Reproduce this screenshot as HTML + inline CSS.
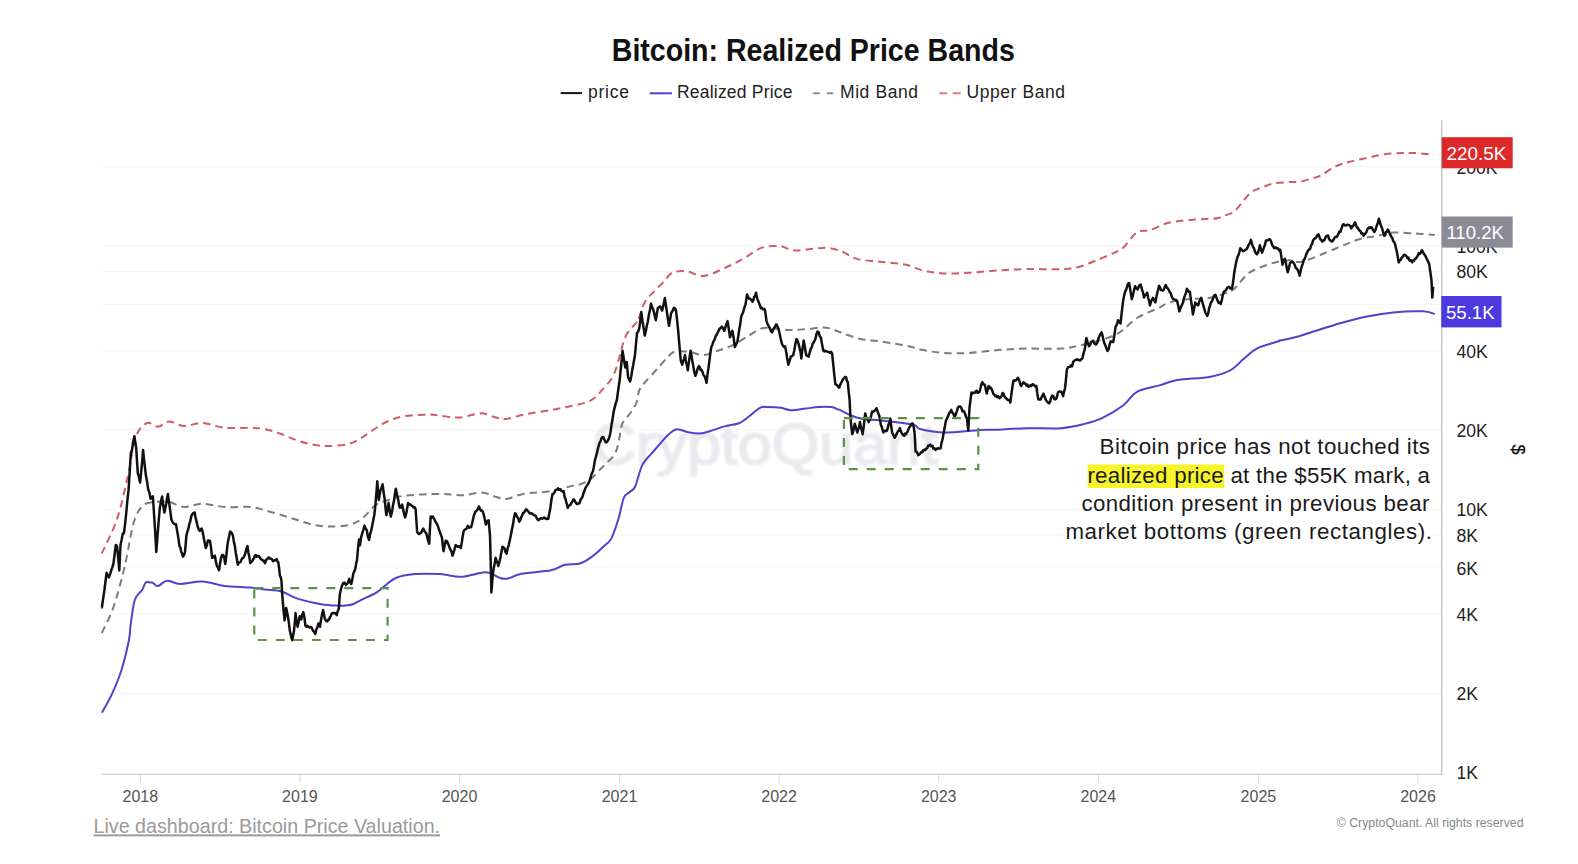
<!DOCTYPE html>
<html><head><meta charset="utf-8">
<style>
html,body{margin:0;padding:0;background:#fff;}
body{width:1578px;height:864px;overflow:hidden;position:relative;}
svg{position:absolute;left:0;top:0;}
text{font-family:"Liberation Sans",sans-serif;}
.yl{font-size:17.6px;fill:#222;}
.xl{font-size:16px;fill:#555;text-anchor:middle;}
.lg{font-size:17.5px;fill:#222;}
.an{font-size:22.3px;fill:#1a1a1a;}
</style></head><body>
<svg width="1578" height="864" viewBox="0 0 1578 864">
<rect width="1578" height="864" fill="#fff"/>
<text x="611.8" y="60.7" textLength="403" lengthAdjust="spacingAndGlyphs" style="font-size:30.5px;font-weight:bold;fill:#111;">Bitcoin: Realized Price Bands</text>
<line x1="560.7" x2="582.1" y1="93.1" y2="93.1" stroke="#111" stroke-width="2"/>
<text x="588" y="98.3" class="lg" textLength="41" lengthAdjust="spacing">price</text>
<line x1="649.7" x2="671.9" y1="93.3" y2="93.3" stroke="#4e45d0" stroke-width="2"/>
<text x="677" y="98.3" class="lg" textLength="115.5" lengthAdjust="spacing">Realized Price</text>
<line x1="813.3" x2="834.6" y1="93.3" y2="93.3" stroke="#8c8c8c" stroke-width="2" stroke-dasharray="6.5 7"/>
<text x="840" y="98.3" class="lg" textLength="78" lengthAdjust="spacing">Mid Band</text>
<line x1="939.3" x2="960.6" y1="93.3" y2="93.3" stroke="#e07a7a" stroke-width="2" stroke-dasharray="8 5.3"/>
<text x="966.5" y="98.3" class="lg" textLength="98.5" lengthAdjust="spacing">Upper Band</text>
<line x1="101" x2="1441" y1="693.4" y2="693.4" stroke="#f5f5f7" stroke-width="1"/><line x1="101" x2="1441" y1="614.1" y2="614.1" stroke="#f5f5f7" stroke-width="1"/><line x1="101" x2="1441" y1="567.8" y2="567.8" stroke="#f5f5f7" stroke-width="1"/><line x1="101" x2="1441" y1="534.9" y2="534.9" stroke="#f5f5f7" stroke-width="1"/><line x1="101" x2="1441" y1="509.4" y2="509.4" stroke="#f5f5f7" stroke-width="1"/><line x1="101" x2="1441" y1="430.1" y2="430.1" stroke="#f5f5f7" stroke-width="1"/><line x1="101" x2="1441" y1="350.9" y2="350.9" stroke="#f5f5f7" stroke-width="1"/><line x1="101" x2="1441" y1="304.5" y2="304.5" stroke="#f5f5f7" stroke-width="1"/><line x1="101" x2="1441" y1="271.6" y2="271.6" stroke="#f5f5f7" stroke-width="1"/><line x1="101" x2="1441" y1="246.1" y2="246.1" stroke="#f5f5f7" stroke-width="1"/><line x1="101" x2="1441" y1="166.8" y2="166.8" stroke="#f5f5f7" stroke-width="1"/>
<filter id="wb" x="-5%" y="-20%" width="110%" height="140%"><feGaussianBlur stdDeviation="1.3"/></filter><text x="592" y="463.7" textLength="346" lengthAdjust="spacingAndGlyphs" filter="url(#wb)" style="font-size:57px;fill:#eaeaee;stroke:#eaeaee;stroke-width:1.6px;">CryptoQuant</text>
<line x1="101.5" x2="1441" y1="774.3" y2="774.3" stroke="#d0d0d0" stroke-width="1.3"/>
<line x1="140.3" x2="140.3" y1="775" y2="783" stroke="#d8d8d8" stroke-width="1"/><text x="140.3" y="801.8" class="xl">2018</text><line x1="299.9" x2="299.9" y1="775" y2="783" stroke="#d8d8d8" stroke-width="1"/><text x="299.9" y="801.8" class="xl">2019</text><line x1="459.5" x2="459.5" y1="775" y2="783" stroke="#d8d8d8" stroke-width="1"/><text x="459.5" y="801.8" class="xl">2020</text><line x1="619.5" x2="619.5" y1="775" y2="783" stroke="#d8d8d8" stroke-width="1"/><text x="619.5" y="801.8" class="xl">2021</text><line x1="779.1" x2="779.1" y1="775" y2="783" stroke="#d8d8d8" stroke-width="1"/><text x="779.1" y="801.8" class="xl">2022</text><line x1="938.7" x2="938.7" y1="775" y2="783" stroke="#d8d8d8" stroke-width="1"/><text x="938.7" y="801.8" class="xl">2023</text><line x1="1098.3" x2="1098.3" y1="775" y2="783" stroke="#d8d8d8" stroke-width="1"/><text x="1098.3" y="801.8" class="xl">2024</text><line x1="1258.4" x2="1258.4" y1="775" y2="783" stroke="#d8d8d8" stroke-width="1"/><text x="1258.4" y="801.8" class="xl">2025</text><line x1="1418.0" x2="1418.0" y1="775" y2="783" stroke="#d8d8d8" stroke-width="1"/><text x="1418.0" y="801.8" class="xl">2026</text>
<line x1="1441.7" x2="1441.7" y1="120.3" y2="775" stroke="#c8c8cc" stroke-width="1.5"/>
<text x="1456.5" y="779.3" class="yl">1K</text><text x="1456.5" y="700.1" class="yl">2K</text><text x="1456.5" y="620.8" class="yl">4K</text><text x="1456.5" y="574.5" class="yl">6K</text><text x="1456.5" y="541.6" class="yl">8K</text><text x="1456.5" y="516.1" class="yl">10K</text><text x="1456.5" y="436.8" class="yl">20K</text><text x="1456.5" y="357.6" class="yl">40K</text><text x="1456.5" y="311.2" class="yl">60K</text><text x="1456.5" y="278.3" class="yl">80K</text><text x="1456.5" y="252.8" class="yl">100K</text><text x="1456.5" y="173.5" class="yl">200K</text>
<path d="M101.7,553.7 C104.3,547.8 112.8,531.8 117.2,518.5 C121.6,505.2 125.2,487.6 128.3,474.0 C131.4,460.4 132.6,445.5 135.7,437.0 C138.8,428.5 143.2,424.7 146.9,423.0 C150.6,421.3 154.3,426.9 158.0,426.7 C161.7,426.4 164.7,421.6 169.0,421.5 C173.3,421.4 178.3,425.8 183.9,426.0 C189.5,426.2 195.6,422.7 202.4,423.0 C209.2,423.3 216.6,427.0 224.6,427.8 C232.6,428.6 243.9,427.6 250.6,427.8 C257.3,428.0 259.9,428.2 265.0,429.2 C270.1,430.2 275.8,432.1 281.2,434.0 C286.6,435.9 292.0,438.7 297.4,440.5 C302.8,442.3 308.3,443.9 313.7,444.8 C319.1,445.7 324.0,446.2 329.9,446.0 C335.8,445.8 343.9,445.2 349.3,443.8 C354.7,442.4 358.0,439.9 362.3,437.3 C366.6,434.8 371.0,431.2 375.3,428.5 C379.6,425.8 383.4,423.1 388.3,421.0 C393.2,418.9 398.0,417.3 404.5,416.2 C411.0,415.1 421.3,414.7 427.2,414.6 C433.1,414.5 434.6,415.1 440.0,415.6 C445.4,416.1 452.4,417.9 459.4,417.5 C466.3,417.1 475.7,413.3 481.7,413.3 C487.7,413.3 491.4,416.6 495.6,417.5 C499.8,418.4 502.1,419.4 506.7,418.9 C511.3,418.4 515.9,416.2 523.3,414.7 C530.7,413.2 542.8,411.5 551.1,410.0 C559.4,408.5 566.8,407.1 573.3,405.6 C579.8,404.1 585.4,403.2 590.0,400.8 C594.6,398.4 597.1,395.7 601.1,391.1 C605.1,386.5 610.3,382.3 614.3,373.4 C618.3,364.5 621.5,346.0 625.1,337.6 C628.7,329.2 633.8,325.9 635.9,323.2 C638.0,320.5 636.3,325.2 637.8,321.7 C639.3,318.2 641.9,307.3 644.7,302.2 C647.5,297.1 651.1,294.6 654.4,291.1 C657.6,287.6 661.3,284.4 664.2,281.4 C667.1,278.4 668.1,274.7 671.7,273.0 C675.3,271.3 680.6,270.7 686.0,271.2 C691.4,271.7 697.4,276.5 704.0,275.9 C710.6,275.3 718.9,270.5 725.5,267.6 C732.1,264.7 737.4,262.0 743.4,258.7 C749.4,255.4 755.2,250.0 761.3,247.9 C767.4,245.8 774.7,245.7 780.0,246.1 C785.3,246.5 787.5,249.9 793.1,250.3 C798.7,250.8 807.6,249.2 813.4,248.8 C819.2,248.4 823.1,247.4 827.9,247.9 C832.7,248.4 837.5,249.9 842.3,251.7 C847.1,253.5 850.5,257.2 856.8,258.9 C863.1,260.6 871.8,260.8 880.0,261.8 C888.2,262.8 898.8,263.2 906.0,264.7 C913.2,266.1 917.1,269.1 923.4,270.5 C929.7,271.9 936.0,273.0 943.6,273.4 C951.2,273.8 959.9,273.3 968.9,272.8 C977.9,272.3 988.2,271.1 997.9,270.5 C1007.5,269.9 1016.2,269.3 1026.8,269.1 C1037.4,268.9 1052.8,269.5 1061.5,269.1 C1070.2,268.8 1073.1,268.4 1078.9,267.0 C1084.7,265.6 1090.4,262.7 1096.2,260.4 C1102.0,258.1 1109.1,255.2 1113.6,253.1 C1118.1,250.9 1119.5,251.0 1123.4,247.5 C1127.3,244.0 1132.5,235.2 1136.9,232.3 C1141.3,229.4 1144.5,231.7 1150.0,230.1 C1155.5,228.5 1162.1,224.3 1169.6,222.6 C1177.1,220.8 1187.9,220.2 1195.2,219.6 C1202.5,219.0 1209.1,219.2 1213.2,218.8 C1217.3,218.5 1217.9,218.1 1220.0,217.5 C1222.1,216.9 1223.5,216.1 1225.8,215.2 C1228.1,214.2 1231.2,213.9 1233.9,211.8 C1236.6,209.7 1239.1,205.8 1242.0,202.5 C1244.9,199.2 1248.0,194.6 1251.3,192.1 C1254.6,189.6 1258.0,188.9 1261.7,187.5 C1265.4,186.1 1269.0,184.3 1273.2,183.4 C1277.4,182.5 1282.6,182.5 1287.1,182.2 C1291.5,181.9 1295.7,182.4 1299.9,181.7 C1304.2,181.0 1309.2,179.2 1312.6,178.2 C1315.9,177.2 1316.2,177.9 1320.0,175.9 C1323.8,173.9 1330.6,168.8 1335.6,166.4 C1340.6,164.0 1344.9,163.0 1350.2,161.6 C1355.5,160.2 1361.5,159.1 1367.2,157.9 C1372.9,156.7 1378.5,155.1 1384.2,154.3 C1389.9,153.5 1396.0,153.3 1401.2,153.1 C1406.5,152.9 1410.2,152.8 1415.7,153.1 C1421.2,153.4 1431.0,154.5 1434.0,154.8" fill="none" stroke="#cf5c68" stroke-width="2" stroke-dasharray="7.5 5"/>
<path d="M101.7,633.0 C103.7,628.7 109.7,618.0 113.5,607.0 C117.3,596.0 121.2,580.9 124.6,566.7 C128.0,552.5 130.8,532.2 133.9,522.0 C137.0,511.8 139.7,508.9 143.0,505.6 C146.3,502.3 149.7,502.6 154.0,502.0 C158.3,501.4 164.0,501.2 169.0,502.0 C174.0,502.8 178.3,506.7 183.9,507.0 C189.5,507.3 195.6,503.7 202.4,503.7 C209.2,503.7 216.6,506.4 224.6,507.0 C232.6,507.6 243.9,506.4 250.6,507.0 C257.3,507.6 259.9,509.0 265.0,510.3 C270.1,511.6 275.8,513.4 281.2,515.0 C286.6,516.6 292.0,518.4 297.4,520.0 C302.8,521.6 308.3,523.8 313.7,524.9 C319.1,526.0 324.0,526.5 329.9,526.5 C335.8,526.5 343.9,526.2 349.3,524.9 C354.7,523.5 358.0,521.6 362.3,518.4 C366.6,515.1 371.0,508.5 375.3,505.4 C379.6,502.3 383.4,501.6 388.3,500.0 C393.2,498.4 395.9,496.7 404.5,495.7 C413.1,494.7 430.4,494.0 440.0,493.9 C449.6,493.8 455.2,495.5 462.2,495.3 C469.1,495.1 476.1,492.3 481.7,492.5 C487.3,492.7 491.4,495.6 495.6,496.7 C499.8,497.8 502.1,499.4 506.7,498.9 C511.3,498.4 515.9,495.2 523.3,493.9 C530.7,492.6 542.8,492.5 551.1,491.1 C559.4,489.7 568.5,486.7 573.3,485.6 C578.1,484.5 577.1,485.5 580.0,484.4 C582.9,483.3 586.9,481.8 590.4,479.2 C593.9,476.6 598.0,471.6 600.8,468.8 C603.6,466.0 605.0,464.6 607.1,462.5 C609.2,460.4 611.6,458.9 613.3,456.3 C615.0,453.7 616.3,451.1 617.5,446.9 C618.7,442.7 619.7,435.3 620.6,431.3 C621.5,427.3 621.1,425.9 622.7,422.9 C624.3,419.9 627.7,416.8 630.0,413.5 C632.3,410.2 634.7,407.0 636.3,403.1 C637.9,399.2 637.8,393.7 639.4,390.0 C641.0,386.3 643.1,384.5 646.1,381.0 C649.1,377.5 653.5,373.0 657.2,368.9 C660.9,364.8 665.3,359.3 668.3,356.4 C671.3,353.5 671.8,352.2 675.3,351.5 C678.8,350.8 685.0,351.3 689.6,351.9 C694.2,352.5 698.8,355.2 703.2,355.1 C707.6,355.0 711.3,352.7 716.2,351.1 C721.1,349.5 727.0,348.0 732.4,345.4 C737.8,342.8 743.7,338.5 748.6,335.7 C753.5,332.9 757.6,329.6 761.6,328.4 C765.6,327.2 768.3,328.1 772.9,328.4 C777.5,328.7 783.8,329.9 789.2,330.0 C794.6,330.1 800.0,329.6 805.4,329.2 C810.8,328.8 817.5,327.7 821.6,327.6 C825.7,327.5 826.2,327.5 829.7,328.4 C833.2,329.3 837.6,331.4 842.6,333.2 C847.6,334.9 853.8,337.5 860.0,338.9 C866.2,340.3 872.3,340.3 880.0,341.4 C887.7,342.5 898.8,344.2 906.0,345.7 C913.2,347.1 917.1,348.9 923.4,350.1 C929.7,351.3 936.0,352.5 943.6,353.0 C951.2,353.5 959.9,353.5 968.9,353.0 C977.9,352.5 988.2,350.8 997.9,350.1 C1007.5,349.4 1016.2,348.9 1026.8,348.6 C1037.4,348.4 1052.8,349.1 1061.5,348.6 C1070.2,348.1 1073.1,346.9 1078.9,345.7 C1084.7,344.5 1090.4,343.1 1096.2,341.4 C1102.0,339.7 1109.1,337.6 1113.6,335.6 C1118.1,333.7 1119.5,332.6 1123.4,329.7 C1127.3,326.8 1131.2,321.6 1136.9,318.0 C1142.6,314.4 1152.0,311.0 1157.5,308.4 C1163.0,305.8 1164.8,303.9 1169.6,302.4 C1174.4,300.9 1179.3,300.2 1186.1,299.4 C1192.9,298.6 1203.7,298.8 1210.2,297.8 C1216.7,296.8 1221.3,294.8 1225.3,293.3 C1229.3,291.8 1230.5,292.1 1234.3,288.8 C1238.0,285.6 1243.3,277.4 1247.8,273.8 C1252.3,270.2 1256.4,269.0 1261.4,267.0 C1266.4,265.0 1273.2,262.8 1278.0,261.7 C1282.8,260.6 1285.9,260.2 1290.0,260.2 C1294.1,260.2 1295.2,263.4 1302.7,261.5 C1310.2,259.6 1325.8,252.5 1335.1,248.8 C1344.4,245.1 1351.3,241.6 1358.3,239.5 C1365.2,237.4 1371.0,237.2 1376.8,236.0 C1382.6,234.8 1386.6,233.0 1393.0,232.6 C1399.4,232.2 1408.0,233.1 1415.0,233.5 C1422.0,233.9 1431.4,234.7 1434.7,234.9" fill="none" stroke="#7c7c7c" stroke-width="2" stroke-dasharray="7.5 5"/>
<path d="M102.0,712.6 C103.6,709.6 108.5,701.5 111.8,694.4 C115.0,687.3 118.7,678.9 121.5,670.0 C124.3,661.1 127.3,648.1 128.8,640.8 C130.3,633.5 129.7,632.1 130.5,626.0 C131.3,619.9 132.8,609.1 133.7,604.3 C134.6,599.5 134.7,599.4 136.1,597.0 C137.5,594.6 140.6,592.1 142.2,589.7 C143.8,587.3 144.4,583.6 145.8,582.4 C147.2,581.2 149.4,582.5 150.6,582.6 C151.8,582.7 151.9,582.4 153.1,583.0 C154.3,583.6 155.7,586.4 158.0,586.0 C160.3,585.6 163.5,581.0 167.2,580.7 C170.9,580.4 174.3,583.9 180.2,584.0 C186.1,584.1 195.0,581.2 202.4,581.5 C209.8,581.8 216.7,585.0 224.6,586.0 C232.5,587.0 243.3,586.9 250.0,587.5 C256.7,588.1 259.7,588.8 265.0,589.5 C270.3,590.2 276.3,590.0 281.7,591.5 C287.1,593.0 290.9,596.5 297.5,598.6 C304.1,600.7 314.4,603.0 321.3,604.2 C328.2,605.4 334.6,605.5 338.7,605.7 C342.8,605.9 343.6,605.8 346.0,605.5 C348.4,605.2 350.5,605.1 353.0,604.2 C355.5,603.3 356.9,602.2 360.9,600.2 C364.8,598.2 372.7,594.7 376.7,592.3 C380.7,589.9 381.5,588.4 384.7,586.0 C387.9,583.6 390.8,580.0 395.8,578.0 C400.8,576.0 407.4,574.8 414.8,574.1 C422.2,573.5 432.5,573.7 440.1,574.1 C447.8,574.5 453.6,577.1 460.7,576.8 C467.8,576.5 477.9,573.1 482.9,572.5 C487.9,571.9 487.9,572.4 490.8,573.3 C493.7,574.2 497.1,577.1 500.0,578.0 C502.9,578.9 504.6,579.3 508.0,578.6 C511.4,577.9 513.4,575.3 520.6,573.9 C527.8,572.5 543.7,571.8 551.1,570.3 C558.5,568.8 560.2,565.8 565.0,564.7 C569.8,563.6 575.4,564.9 580.0,563.5 C584.6,562.1 588.5,559.2 592.5,556.3 C596.5,553.4 600.9,549.0 604.0,546.0 C607.1,543.0 608.9,543.1 611.3,538.6 C613.7,534.1 616.4,525.6 618.5,518.8 C620.6,512.0 621.9,502.4 623.8,497.9 C625.7,493.4 628.1,493.6 630.0,491.7 C631.9,489.8 633.1,491.0 635.2,486.5 C637.3,482.0 639.5,470.3 642.5,464.6 C645.5,458.9 648.7,457.0 652.9,452.1 C657.1,447.2 663.5,439.2 667.5,435.4 C671.5,431.6 673.4,429.7 676.9,429.2 C680.4,428.7 684.4,431.6 688.3,432.3 C692.1,433.0 696.4,433.7 700.0,433.5 C703.6,433.3 705.7,432.5 709.7,431.3 C713.8,430.1 719.4,427.8 724.3,426.4 C729.2,425.0 734.8,424.8 738.9,423.2 C743.0,421.6 745.1,419.3 748.6,416.7 C752.1,414.1 756.8,409.4 760.0,407.8 C763.2,406.2 764.6,407.0 768.1,407.0 C771.6,407.0 777.2,407.3 781.0,407.8 C784.8,408.3 786.7,410.1 790.8,410.2 C794.9,410.3 800.8,409.1 805.4,408.6 C810.0,408.1 814.0,407.3 818.3,407.0 C822.6,406.7 828.0,406.6 831.3,407.0 C834.5,407.4 836.3,408.9 837.8,409.4 C839.2,409.9 837.9,408.9 840.0,409.9 C842.1,410.8 846.9,413.7 850.4,415.1 C853.9,416.6 855.9,417.7 860.8,418.6 C865.7,419.5 871.3,419.3 880.0,420.3 C888.7,421.3 906.4,423.2 913.0,424.7 C919.6,426.1 914.7,427.7 919.9,429.0 C925.1,430.3 934.2,432.4 944.2,432.5 C954.2,432.6 971.0,430.4 980.0,429.9 C989.0,429.4 990.1,430.0 997.9,429.7 C1005.7,429.4 1016.2,428.4 1026.8,428.2 C1037.4,427.9 1051.8,428.9 1061.5,428.2 C1071.2,427.5 1078.0,425.6 1084.7,423.9 C1091.5,422.2 1095.5,421.2 1102.0,418.1 C1108.5,415.0 1117.6,409.7 1123.4,405.3 C1129.2,400.9 1130.7,395.2 1136.9,391.8 C1143.1,388.4 1153.7,387.1 1160.4,385.1 C1167.1,383.2 1168.8,381.5 1177.2,380.1 C1185.6,378.7 1201.8,378.4 1210.7,376.7 C1219.7,375.0 1225.3,373.1 1230.9,370.0 C1236.5,366.9 1239.8,361.9 1244.3,358.3 C1248.8,354.7 1252.1,351.0 1257.7,348.2 C1263.3,345.4 1274.2,342.8 1277.9,341.5 C1281.6,340.2 1277.6,341.0 1279.6,340.5 C1281.6,340.0 1286.6,339.2 1290.0,338.5 C1293.4,337.8 1296.3,337.1 1300.0,336.0 C1303.7,334.9 1305.0,334.2 1312.0,332.0 C1319.0,329.8 1332.8,325.4 1342.0,322.8 C1351.2,320.2 1358.5,318.2 1367.0,316.5 C1375.5,314.8 1383.7,313.3 1393.0,312.4 C1402.3,311.5 1416.0,311.0 1423.0,311.3 C1430.0,311.6 1432.8,313.6 1434.7,314.0" fill="none" stroke="#5142cc" stroke-width="2"/>
<path d="M101.7,607.4 L101.9,607.5 L102.8,601.0 L103.7,594.9 L104.5,589.5 L105.4,582.0 L106.6,572.8 L107.8,575.4 L108.9,577.4 L110.1,574.1 L111.2,570.5 L112.3,567.3 L113.5,563.5 L114.7,553.5 L115.8,545.0 L117.0,546.2 L118.2,558.1 L119.3,570.5 L120.5,545.0 L121.7,539.5 L122.8,533.4 L123.9,533.4 L125.1,523.9 L126.3,512.6 L127.4,500.2 L128.6,489.4 L129.8,470.1 L130.9,452.4 L132.0,450.0 L133.2,441.8 L134.4,436.2 L135.3,442.3 L136.2,447.8 L137.0,461.1 L137.8,473.2 L138.9,476.9 L140.1,482.5 L141.1,472.6 L142.1,462.4 L143.1,450.0 L144.0,459.5 L145.0,467.7 L145.9,475.6 L147.1,481.8 L148.2,489.4 L149.4,492.6 L150.6,498.7 L151.8,497.1 L152.9,496.4 L154.0,513.6 L155.2,532.1 L156.3,551.9 L157.2,539.8 L158.1,528.3 L158.9,518.3 L159.8,508.0 L160.9,501.8 L162.1,496.4 L163.2,505.3 L164.4,512.6 L165.3,508.3 L166.2,503.8 L167.0,498.8 L167.9,494.0 L168.8,500.9 L169.7,506.8 L170.5,512.6 L171.4,519.5 L172.3,521.5 L173.2,523.1 L174.2,523.8 L175.1,524.3 L176.0,524.2 L176.9,529.6 L177.8,534.5 L178.6,539.9 L179.5,546.2 L180.4,547.4 L181.2,551.6 L182.1,553.8 L183.0,556.6 L184.0,555.2 L185.0,552.2 L186.4,535.6 L187.3,531.9 L188.3,529.3 L189.2,524.4 L190.2,521.6 L191.3,516.1 L192.4,514.1 L193.6,512.7 L194.7,512.6 L195.6,517.7 L196.6,521.6 L197.5,525.8 L198.9,530.0 L199.8,530.8 L200.8,529.3 L201.7,528.6 L202.8,532.4 L203.8,538.3 L204.8,543.2 L205.8,548.1 L206.9,545.0 L207.9,540.4 L208.9,540.4 L210.0,541.1 L211.1,548.3 L212.1,557.8 L213.0,556.2 L214.0,557.3 L214.9,555.7 L215.9,561.9 L217.0,566.1 L218.0,567.6 L219.0,570.3 L220.1,563.2 L221.1,557.8 L222.1,555.1 L223.2,555.0 L224.2,557.9 L225.3,564.0 L226.4,554.9 L227.4,545.3 L228.3,539.9 L229.2,535.9 L230.1,531.4 L231.0,532.6 L232.0,533.3 L232.9,535.6 L233.8,541.4 L234.8,545.8 L235.7,552.2 L236.8,558.5 L237.8,564.7 L238.7,562.8 L239.7,562.3 L240.6,561.9 L241.5,559.6 L242.4,558.2 L243.3,557.8 L244.4,555.8 L245.4,553.0 L246.4,548.8 L247.5,546.0 L248.4,552.7 L249.4,557.1 L250.3,563.3 L251.2,561.5 L252.2,561.3 L253.1,559.2 L254.0,558.4 L254.9,555.6 L255.8,555.0 L256.9,556.7 L257.9,556.0 L258.9,556.3 L260.0,557.8 L261.0,559.3 L262.0,559.7 L262.9,560.5 L263.9,560.9 L264.9,563.3 L266.0,559.9 L267.2,559.3 L268.3,557.8 L269.2,557.5 L270.2,558.7 L271.1,558.9 L272.0,559.4 L273.0,561.2 L273.9,560.6 L274.8,560.5 L275.8,560.0 L276.7,559.2 L277.5,561.7 L278.3,562.1 L279.1,568.4 L279.9,575.6 L280.7,577.1 L281.5,580.8 L282.0,591.3 L283.0,603.8 L283.8,612.8 L284.6,620.4 L285.4,615.2 L286.1,607.9 L286.9,611.3 L287.7,615.2 L288.8,622.1 L289.8,630.8 L290.7,634.2 L291.5,638.3 L292.4,640.2 L293.2,635.1 L294.0,630.8 L294.8,623.0 L295.5,613.1 L296.6,621.3 L297.6,626.7 L298.6,622.2 L299.7,616.3 L300.5,617.9 L301.3,619.4 L302.3,614.7 L303.3,612.1 L304.4,617.3 L305.4,625.6 L306.4,626.6 L307.5,625.9 L308.5,626.7 L309.6,627.4 L310.6,626.9 L311.7,627.7 L312.6,629.9 L313.5,631.3 L314.4,632.1 L315.3,634.0 L316.3,629.5 L317.4,627.2 L318.4,623.5 L319.2,624.1 L320.0,626.7 L321.1,619.4 L322.1,614.2 L323.1,610.0 L323.9,613.9 L324.7,618.3 L325.6,620.2 L326.4,621.0 L327.3,621.5 L328.2,619.7 L329.0,619.7 L329.9,617.3 L330.8,615.8 L331.7,613.8 L332.6,613.1 L333.5,613.1 L334.6,613.3 L335.6,613.2 L336.7,615.2 L337.8,610.8 L338.8,609.0 L339.8,594.4 L340.9,589.4 L341.9,586.0 L342.6,584.4 L343.4,582.9 L344.3,582.6 L345.1,583.6 L346.0,585.0 L347.1,583.7 L348.1,582.4 L349.2,578.8 L350.2,582.3 L351.3,584.0 L352.3,579.6 L353.3,573.5 L354.4,571.4 L355.4,568.3 L356.2,563.4 L357.0,560.0 L358.0,548.3 L359.0,539.5 L360.0,545.2 L361.1,537.4 L362.3,533.2 L363.4,529.8 L364.5,525.6 L365.6,528.6 L366.8,530.2 L367.9,536.5 L369.0,539.9 L370.1,534.3 L371.3,530.2 L372.3,525.3 L373.3,520.1 L374.3,515.1 L375.1,508.2 L375.8,500.1 L376.6,490.4 L377.3,481.3 L378.1,491.9 L378.8,500.1 L379.6,494.9 L380.3,491.1 L381.5,487.6 L382.6,484.3 L383.7,492.8 L384.8,500.1 L385.6,508.8 L386.3,515.1 L387.5,510.2 L388.6,503.1 L389.7,510.7 L390.8,516.6 L392.0,511.7 L393.1,504.6 L394.0,500.8 L394.9,494.2 L395.8,488.8 L397.1,495.0 L398.3,500.1 L399.1,505.1 L399.8,507.6 L401.0,507.5 L402.1,504.6 L403.1,509.1 L404.1,514.0 L405.1,517.4 L406.1,513.9 L407.1,508.5 L408.1,503.1 L409.2,504.4 L410.4,504.5 L411.5,505.5 L412.6,506.1 L413.6,507.4 L414.6,507.1 L415.6,509.1 L416.4,520.4 L417.1,531.7 L418.1,533.5 L419.2,534.1 L420.2,533.2 L421.2,532.8 L422.2,530.2 L423.2,528.6 L424.2,530.8 L425.2,532.1 L426.2,533.2 L427.2,536.7 L428.2,541.1 L429.2,543.7 L429.9,529.4 L430.7,516.6 L431.7,517.5 L432.7,516.5 L433.7,518.1 L434.8,520.2 L435.9,522.5 L437.1,524.1 L438.2,527.1 L439.1,530.0 L440.1,532.5 L441.1,535.4 L442.0,537.7 L442.8,545.7 L443.5,551.2 L444.6,545.7 L445.7,540.7 L446.7,540.9 L447.7,542.7 L448.7,545.2 L449.6,547.9 L450.6,549.7 L451.6,552.0 L452.5,555.7 L453.5,552.9 L454.5,549.3 L455.5,545.2 L456.6,545.7 L457.8,547.0 L458.9,546.2 L460.0,546.7 L460.8,548.0 L461.7,542.9 L462.7,536.3 L463.6,531.4 L464.7,529.6 L465.7,529.3 L466.8,528.5 L467.8,525.8 L468.9,527.7 L470.0,526.9 L471.1,527.2 L472.0,524.0 L472.9,519.9 L473.8,515.7 L474.7,513.3 L475.8,511.2 L476.8,510.6 L477.8,509.3 L478.9,506.4 L479.9,508.8 L480.9,510.7 L482.0,510.5 L483.0,512.0 L483.9,515.3 L484.9,519.8 L485.8,524.4 L486.7,522.3 L487.7,520.7 L488.6,520.3 L490.0,535.6 L490.6,557.8 L491.4,592.5 L492.8,574.4 L493.7,568.3 L494.7,563.5 L495.6,557.8 L496.5,560.6 L497.4,562.8 L498.3,566.0 L499.4,561.9 L500.4,557.9 L501.4,551.9 L502.5,546.7 L503.6,547.5 L504.6,548.6 L505.6,552.3 L506.7,553.6 L507.7,548.1 L508.8,544.8 L509.8,540.3 L510.8,535.6 L511.9,529.6 L512.9,525.1 L514.0,517.8 L515.0,513.3 L516.0,514.1 L517.1,516.9 L518.2,518.2 L519.2,521.7 L520.2,520.3 L521.2,517.6 L522.2,515.2 L523.1,513.0 L524.1,512.6 L525.1,510.8 L526.1,509.2 L527.0,510.1 L528.0,511.1 L528.9,512.2 L529.8,513.5 L530.8,513.6 L531.7,513.3 L532.7,513.9 L533.7,515.1 L534.7,515.4 L535.6,515.7 L536.6,517.7 L537.6,519.6 L538.6,520.3 L539.5,519.1 L540.5,518.5 L541.4,518.2 L542.3,518.7 L543.3,518.1 L544.2,517.5 L545.2,518.2 L546.2,519.0 L547.3,518.5 L548.3,518.9 L549.3,513.4 L550.4,507.7 L551.5,499.5 L552.5,493.9 L553.4,493.9 L554.3,492.9 L555.2,490.5 L556.2,489.8 L557.1,489.4 L558.0,488.3 L558.9,489.9 L559.9,489.3 L560.8,489.9 L561.7,491.2 L562.7,491.7 L563.6,491.0 L564.6,496.8 L565.7,499.8 L566.8,504.2 L567.8,507.8 L568.7,505.8 L569.6,505.4 L570.5,504.6 L571.5,502.9 L572.4,501.6 L573.3,499.4 L574.2,499.6 L575.2,501.7 L576.1,503.1 L577.0,504.0 L578.0,503.6 L578.9,503.6 L579.8,502.5 L580.7,499.3 L581.6,498.3 L582.6,496.5 L583.5,493.2 L584.4,491.0 L585.5,487.9 L586.5,486.4 L587.5,484.8 L588.6,482.8 L589.6,480.7 L590.7,477.5 L591.8,473.3 L592.8,471.7 L593.7,467.5 L594.7,461.4 L595.6,457.8 L596.6,454.4 L597.7,449.5 L598.7,445.7 L599.7,442.5 L600.6,441.2 L601.6,438.1 L602.5,437.0 L603.4,437.2 L604.3,439.4 L605.2,441.6 L606.1,442.5 L607.2,441.7 L608.3,439.7 L609.4,437.0 L610.5,432.2 L611.5,425.0 L612.5,419.6 L613.6,412.0 L614.7,407.4 L615.8,403.1 L616.9,400.0 L617.8,393.1 L618.8,386.0 L619.7,380.0 L620.6,370.6 L621.6,361.0 L622.5,350.8 L623.9,359.2 L625.3,367.5 L626.7,361.9 L628.1,377.2 L629.1,379.5 L630.1,381.4 L631.2,376.8 L632.2,370.3 L633.1,365.7 L634.1,359.8 L635.0,355.0 L636.0,343.5 L637.1,332.8 L638.2,331.5 L639.2,328.6 L640.2,321.6 L641.3,311.9 L642.6,321.7 L643.7,328.3 L644.7,335.6 L645.8,331.5 L646.8,325.8 L647.8,321.8 L648.9,314.7 L650.0,309.7 L651.0,303.6 L652.0,306.8 L653.1,309.2 L654.0,312.3 L654.9,316.5 L655.8,320.3 L656.8,314.0 L657.9,307.8 L659.0,307.4 L660.0,306.4 L661.0,307.4 L662.1,310.6 L663.0,307.3 L664.0,302.6 L664.9,298.1 L665.9,304.9 L666.9,311.9 L668.0,319.6 L669.0,325.8 L670.0,320.0 L671.1,313.3 L672.0,311.6 L673.0,310.2 L673.9,307.8 L675.0,308.3 L676.0,310.6 L677.0,319.4 L678.0,328.6 L679.4,345.3 L680.8,360.6 L682.2,364.7 L683.1,361.2 L684.1,359.3 L685.0,355.0 L685.9,361.6 L686.9,365.1 L687.8,370.3 L688.7,363.7 L689.7,356.3 L690.6,350.8 L691.5,355.4 L692.4,361.6 L693.3,366.1 L694.3,372.2 L695.4,375.8 L696.3,373.8 L697.1,370.6 L698.0,367.6 L698.9,366.1 L699.8,367.5 L700.6,370.0 L701.5,369.7 L702.4,371.7 L703.4,375.0 L704.5,376.2 L705.5,378.9 L706.5,382.8 L707.5,374.5 L708.4,368.6 L709.4,360.9 L710.3,353.6 L711.3,347.0 L712.4,344.7 L713.5,341.2 L714.5,340.0 L715.6,336.4 L716.7,334.5 L717.8,332.4 L718.8,330.2 L719.8,328.5 L720.9,327.8 L721.9,326.7 L723.1,328.5 L724.3,330.8 L725.4,327.2 L726.5,324.0 L727.6,321.1 L728.8,329.1 L730.0,337.3 L731.2,333.1 L732.4,330.8 L733.6,337.8 L734.9,347.0 L736.1,344.5 L737.3,342.1 L738.3,336.0 L739.3,329.3 L740.3,323.7 L741.3,316.2 L742.3,314.0 L743.3,311.7 L744.4,307.4 L745.4,304.9 L746.2,300.2 L747.0,294.5 L748.1,296.9 L749.2,298.8 L750.2,298.8 L751.3,299.8 L752.4,301.7 L753.3,300.4 L754.2,296.8 L755.1,296.1 L756.0,292.7 L757.2,298.6 L758.4,301.6 L759.6,304.4 L760.8,308.1 L761.8,307.7 L762.8,309.2 L763.8,308.8 L764.8,309.7 L765.6,314.2 L766.5,321.1 L767.7,324.3 L768.9,326.7 L770.0,328.5 L771.0,331.2 L772.1,332.4 L773.1,329.7 L774.2,327.8 L775.2,326.6 L776.2,324.3 L777.3,325.9 L778.3,328.5 L779.4,332.4 L780.6,338.2 L781.9,343.8 L783.0,345.7 L784.0,347.0 L785.1,346.2 L786.2,352.0 L787.2,358.5 L788.3,364.8 L789.5,361.4 L790.8,356.7 L792.0,356.1 L793.2,355.1 L794.3,350.3 L795.4,343.7 L796.5,338.9 L797.6,340.8 L798.6,343.9 L799.7,348.6 L800.5,351.8 L801.3,358.4 L802.5,349.0 L803.7,340.5 L805.0,347.7 L806.2,355.1 L807.4,356.0 L808.6,356.7 L809.7,352.6 L810.7,349.1 L811.8,347.0 L812.8,343.3 L813.7,342.3 L814.6,340.7 L815.6,338.3 L816.5,333.7 L817.5,331.6 L818.6,332.2 L819.7,336.1 L820.8,337.3 L822.0,344.0 L823.2,350.3 L824.2,351.4 L825.2,350.7 L826.1,351.1 L827.1,351.6 L828.1,351.9 L829.1,352.1 L830.1,352.9 L831.1,351.9 L832.1,353.5 L833.2,363.9 L834.3,375.0 L835.4,384.3 L836.4,384.6 L837.4,385.6 L838.4,387.2 L839.4,387.5 L840.0,385.0 L841.0,383.3 L842.1,380.9 L843.1,379.0 L844.2,378.1 L845.2,376.9 L846.1,377.2 L846.9,380.9 L847.8,382.1 L848.7,391.8 L849.6,399.5 L850.4,416.9 L851.3,426.4 L852.2,434.2 L853.1,432.0 L853.9,428.0 L854.8,423.8 L855.7,426.7 L856.5,429.9 L857.4,432.5 L858.3,429.1 L859.1,426.9 L860.0,422.1 L860.9,427.4 L861.7,430.0 L862.6,434.2 L863.5,428.3 L864.3,421.3 L865.2,413.4 L866.1,416.6 L867.0,418.9 L867.8,420.1 L868.7,422.1 L869.8,419.7 L871.0,416.5 L872.1,411.6 L873.2,411.7 L874.3,410.9 L875.4,410.1 L876.5,408.2 L877.4,410.6 L878.2,413.4 L879.1,415.1 L880.0,419.0 L880.8,424.7 L881.7,426.6 L882.5,429.6 L883.4,432.5 L884.3,430.7 L885.1,430.7 L886.0,431.2 L886.9,430.7 L887.8,428.0 L888.6,424.1 L889.5,422.6 L890.4,418.6 L891.2,426.3 L892.1,432.5 L893.0,434.1 L893.8,436.3 L894.7,437.7 L895.6,436.3 L896.4,434.4 L897.3,432.5 L898.2,430.8 L899.0,430.8 L899.9,428.1 L900.8,430.9 L901.6,433.0 L902.5,434.2 L903.4,435.2 L904.2,435.8 L905.1,433.5 L906.0,434.2 L906.9,432.5 L907.8,431.4 L908.6,428.6 L909.5,427.3 L910.4,426.0 L911.2,424.2 L912.1,423.4 L913.0,423.8 L913.9,428.2 L914.7,434.2 L915.6,451.6 L916.5,451.5 L917.3,452.8 L918.2,455.1 L919.2,454.7 L920.3,453.4 L921.3,452.1 L922.4,452.2 L923.4,449.9 L924.4,449.8 L925.4,449.9 L926.4,448.5 L927.3,448.0 L928.3,445.4 L929.3,445.4 L930.3,444.6 L931.3,446.3 L932.4,445.8 L933.4,448.6 L934.5,448.2 L935.5,449.9 L936.5,449.3 L937.6,448.2 L938.6,448.5 L939.7,448.6 L940.7,448.1 L941.6,442.4 L942.5,439.6 L943.4,434.2 L944.3,429.6 L945.1,425.0 L946.0,420.3 L947.0,418.5 L948.1,415.9 L949.1,413.4 L950.2,412.2 L951.2,409.9 L952.3,412.5 L953.5,414.1 L954.6,416.9 L955.7,414.7 L956.8,411.3 L957.9,407.6 L959.0,406.4 L960.0,406.4 L961.2,407.7 L962.5,411.4 L963.4,410.7 L964.2,411.7 L965.1,414.0 L966.0,416.7 L967.0,419.1 L968.3,430.5 L969.5,407.6 L970.5,399.8 L971.5,392.4 L972.8,393.4 L974.0,392.4 L975.0,392.7 L975.9,391.1 L976.8,390.7 L977.6,392.9 L978.5,392.4 L979.5,391.9 L980.4,388.5 L981.3,384.8 L982.3,382.2 L983.5,384.3 L984.8,384.7 L985.8,389.3 L986.7,393.6 L987.7,389.8 L988.6,386.0 L989.5,388.1 L990.3,387.4 L991.2,388.5 L992.3,390.6 L993.3,393.9 L994.4,394.9 L995.4,396.2 L996.3,395.8 L997.2,397.2 L998.2,396.2 L999.5,398.1 L1000.7,397.4 L1001.7,395.9 L1002.6,393.0 L1003.5,393.7 L1004.3,396.0 L1005.2,397.4 L1006.5,398.6 L1007.7,400.0 L1008.6,400.0 L1009.4,400.2 L1010.3,402.5 L1011.3,394.9 L1012.4,387.0 L1013.4,380.9 L1014.3,380.2 L1015.1,380.7 L1016.0,380.3 L1017.0,379.0 L1017.9,377.7 L1019.0,379.8 L1020.0,383.2 L1021.1,386.0 L1022.4,383.9 L1023.6,382.2 L1024.5,383.5 L1025.5,383.8 L1026.5,385.5 L1027.4,384.7 L1028.4,386.7 L1029.3,386.5 L1030.3,385.4 L1031.3,386.0 L1032.5,384.3 L1033.8,384.7 L1034.7,385.8 L1035.5,386.5 L1036.4,386.0 L1037.3,393.4 L1038.3,399.4 L1039.5,399.3 L1040.8,399.4 L1041.7,396.8 L1042.5,395.8 L1043.4,393.6 L1044.7,397.1 L1045.9,400.0 L1047.0,401.4 L1048.0,402.6 L1049.1,403.2 L1050.2,401.5 L1051.2,397.5 L1052.3,395.5 L1053.3,396.0 L1054.4,399.1 L1055.4,399.4 L1056.3,398.5 L1057.1,396.2 L1058.0,392.4 L1059.2,391.4 L1060.5,391.7 L1061.4,391.8 L1062.2,393.6 L1063.1,396.2 L1064.0,391.8 L1065.0,388.5 L1066.0,379.1 L1066.9,369.5 L1068.2,367.2 L1069.4,366.9 L1070.3,366.5 L1071.1,365.3 L1072.0,366.3 L1073.2,361.9 L1074.5,360.5 L1075.4,360.0 L1076.2,359.8 L1077.1,359.3 L1078.1,360.1 L1079.0,359.9 L1080.0,360.5 L1081.2,359.3 L1082.4,358.3 L1083.6,353.1 L1084.8,349.4 L1085.6,343.0 L1086.4,338.0 L1087.7,342.4 L1088.9,346.1 L1090.0,345.5 L1091.0,342.1 L1092.1,341.3 L1093.1,340.8 L1094.2,343.3 L1095.2,344.1 L1096.2,344.5 L1097.4,342.1 L1098.6,338.0 L1099.6,335.7 L1100.5,333.9 L1101.5,332.4 L1102.4,335.1 L1103.4,339.9 L1104.3,342.9 L1105.4,345.4 L1106.4,348.6 L1107.5,351.0 L1108.6,349.2 L1109.6,344.6 L1110.7,341.3 L1112.0,341.8 L1113.2,342.1 L1114.4,335.1 L1115.6,326.7 L1116.8,324.8 L1118.0,320.2 L1119.2,322.1 L1120.5,323.5 L1121.7,312.7 L1122.9,302.4 L1124.1,295.6 L1125.3,291.1 L1126.2,289.7 L1127.2,286.2 L1128.1,283.6 L1129.1,283.0 L1130.0,288.1 L1130.9,293.6 L1131.8,299.2 L1132.9,295.3 L1134.0,290.2 L1135.1,286.2 L1136.3,288.4 L1137.5,289.4 L1138.6,286.9 L1139.6,285.1 L1140.7,284.6 L1141.8,289.0 L1142.9,292.1 L1144.0,297.5 L1145.1,295.0 L1146.1,294.6 L1147.2,292.7 L1148.1,297.5 L1149.1,300.8 L1150.0,305.4 L1151.0,301.8 L1152.0,299.6 L1153.0,297.8 L1154.2,300.4 L1155.3,302.4 L1156.2,298.0 L1157.2,293.0 L1158.1,290.1 L1159.0,285.8 L1160.0,287.5 L1161.0,290.0 L1162.0,290.3 L1163.0,290.5 L1163.9,289.3 L1164.8,286.7 L1165.8,285.0 L1166.8,287.6 L1167.7,288.2 L1168.6,289.6 L1169.6,291.8 L1170.7,293.3 L1171.8,296.6 L1173.0,298.9 L1174.1,299.4 L1175.1,299.7 L1176.1,300.0 L1177.1,300.9 L1178.2,305.7 L1179.4,311.4 L1180.3,308.6 L1181.2,306.4 L1182.2,304.2 L1183.1,302.4 L1184.0,298.0 L1185.0,295.4 L1186.0,292.9 L1186.9,288.8 L1187.9,290.2 L1188.9,291.8 L1189.9,291.8 L1190.9,299.8 L1191.9,306.2 L1192.9,314.4 L1194.1,308.8 L1195.2,302.4 L1196.2,304.5 L1197.2,304.2 L1198.2,305.4 L1199.2,301.6 L1200.2,299.9 L1201.2,297.8 L1202.2,301.3 L1203.2,305.0 L1204.2,308.4 L1205.2,312.2 L1206.2,314.2 L1207.2,315.9 L1208.2,313.6 L1209.1,308.4 L1210.0,305.6 L1211.0,302.4 L1212.1,301.2 L1213.2,297.8 L1214.4,295.3 L1215.5,294.8 L1216.6,298.0 L1217.7,300.9 L1218.7,303.0 L1219.8,302.2 L1220.8,303.9 L1221.8,300.0 L1222.8,294.9 L1223.8,291.8 L1224.9,291.0 L1226.0,290.1 L1227.2,287.9 L1228.3,287.3 L1229.2,286.8 L1230.2,288.4 L1231.1,288.6 L1232.0,288.8 L1233.2,281.3 L1234.3,272.3 L1235.4,266.2 L1236.6,260.2 L1237.5,256.8 L1238.4,255.3 L1239.4,252.0 L1240.3,248.2 L1241.3,249.5 L1242.3,250.4 L1243.3,251.2 L1244.4,250.7 L1245.5,249.7 L1246.7,249.2 L1247.8,246.7 L1248.8,244.7 L1249.9,243.1 L1250.9,239.9 L1251.9,243.4 L1252.9,246.6 L1253.9,248.2 L1254.9,251.4 L1255.9,253.5 L1256.9,254.2 L1257.9,252.7 L1258.9,249.9 L1259.9,245.2 L1261.0,249.9 L1262.1,252.7 L1263.0,250.1 L1264.0,247.3 L1265.0,244.7 L1265.9,240.6 L1267.0,240.6 L1268.2,240.1 L1269.3,239.1 L1270.4,239.9 L1271.4,242.3 L1272.3,245.4 L1273.2,246.3 L1274.2,248.2 L1275.2,247.6 L1276.2,247.6 L1277.2,248.4 L1278.2,248.5 L1279.2,250.4 L1280.2,249.7 L1281.3,256.4 L1282.5,264.7 L1283.6,260.9 L1284.7,258.7 L1285.7,262.0 L1286.7,267.7 L1287.7,272.3 L1288.8,268.4 L1290.0,263.2 L1291.0,262.3 L1292.1,261.3 L1293.1,262.4 L1294.0,263.3 L1294.9,265.4 L1295.8,268.0 L1296.7,268.4 L1297.7,270.0 L1298.6,272.0 L1299.6,275.7 L1300.7,270.4 L1301.7,266.5 L1302.8,263.6 L1303.7,260.1 L1304.6,258.9 L1305.5,256.6 L1306.4,253.9 L1307.3,252.1 L1308.2,250.4 L1309.2,249.3 L1310.1,249.0 L1311.0,245.4 L1311.9,244.4 L1312.8,241.3 L1313.7,239.3 L1314.7,238.3 L1315.7,238.2 L1316.6,236.6 L1317.6,234.8 L1318.6,234.4 L1319.5,237.0 L1320.4,239.4 L1321.3,239.9 L1322.2,241.7 L1323.2,240.6 L1324.2,240.5 L1325.1,238.5 L1326.1,236.3 L1327.1,235.7 L1328.1,235.5 L1329.0,238.8 L1330.0,240.3 L1330.9,240.6 L1331.9,241.7 L1332.8,240.6 L1333.8,239.4 L1334.7,237.5 L1335.6,236.9 L1336.6,237.0 L1337.5,235.7 L1338.5,233.6 L1339.4,231.6 L1340.4,232.0 L1341.7,227.8 L1342.9,224.7 L1343.9,224.2 L1344.8,225.3 L1345.8,225.5 L1346.7,225.2 L1347.7,224.7 L1348.6,224.9 L1349.6,225.4 L1350.5,226.6 L1351.4,228.4 L1352.3,225.9 L1353.2,226.0 L1354.1,224.1 L1355.0,222.3 L1355.9,224.6 L1356.8,227.4 L1357.8,227.7 L1358.7,229.6 L1359.7,230.9 L1360.6,231.2 L1361.6,233.7 L1362.5,233.3 L1363.5,235.7 L1364.4,234.6 L1365.3,233.7 L1366.3,232.3 L1367.2,229.6 L1368.1,228.3 L1369.0,227.6 L1369.9,228.1 L1370.8,227.2 L1371.7,227.4 L1372.6,229.2 L1373.5,230.6 L1374.4,232.0 L1375.5,229.8 L1376.6,226.0 L1377.7,223.2 L1378.8,218.7 L1379.8,221.4 L1380.7,225.1 L1381.7,227.2 L1383.0,231.5 L1384.2,235.7 L1385.1,235.3 L1386.0,232.0 L1386.9,231.7 L1387.8,229.6 L1388.7,230.9 L1389.6,233.2 L1390.5,235.1 L1391.4,236.9 L1392.3,237.8 L1393.2,241.1 L1394.2,242.1 L1395.1,244.2 L1396.0,248.2 L1396.9,252.0 L1397.8,256.9 L1398.7,262.4 L1399.7,260.5 L1400.7,259.9 L1401.6,257.8 L1402.6,257.0 L1403.6,255.1 L1404.6,254.7 L1405.5,255.5 L1406.5,256.2 L1407.4,258.1 L1408.4,257.5 L1409.3,260.0 L1410.2,260.8 L1411.2,260.2 L1412.1,262.4 L1413.0,260.8 L1413.9,260.9 L1414.8,259.1 L1415.7,258.7 L1416.7,257.2 L1417.7,255.7 L1418.8,253.1 L1419.8,253.9 L1420.8,252.7 L1421.8,250.2 L1422.8,251.5 L1423.8,253.8 L1424.7,254.8 L1425.7,256.5 L1426.7,258.7 L1427.9,261.1 L1429.1,263.6 L1430.3,271.6 L1431.5,280.6 L1432.3,297.6 L1433.2,286.7" fill="none" stroke="#111" stroke-width="2.5" stroke-linejoin="round"/>
<rect x="254.3" y="588.1" width="133.3" height="51.9" fill="none" stroke="#5b9447" stroke-width="2.2" stroke-dasharray="9 9"/>
<rect x="843.9" y="418.2" width="134.4" height="51" fill="none" stroke="#5b9447" stroke-width="2.2" stroke-dasharray="9 9"/>
<rect x="1098.5" y="436.6" width="332" height="23.5" fill="#fff"/>
<rect x="1087.6" y="464.5" width="343" height="23.5" fill="#fff"/>
<rect x="1080.6" y="492.9" width="350" height="23.5" fill="#fff"/>
<rect x="1064.8" y="521.3" width="366" height="23.5" fill="#fff"/>
<rect x="1087.6" y="464.5" width="136.6" height="23.5" fill="#f7f52a"/>
<text x="1099.6" y="454" class="an" textLength="330.4" lengthAdjust="spacing">Bitcoin price has not touched its</text>
<text x="1087.4" y="482.6" class="an" textLength="342.6" lengthAdjust="spacing">realized price at the $55K mark, a</text>
<text x="1081.4" y="510.8" class="an" textLength="348" lengthAdjust="spacing">condition present in previous bear</text>
<text x="1065.4" y="539.2" class="an" textLength="366.5" lengthAdjust="spacing">market bottoms (green rectangles).</text>
<rect x="1441.7" y="137.2" width="71" height="31.1" fill="#dc2a2a"/>
<text x="1446.4" y="159.9" style="font-size:18.9px;fill:#fff;">220.5K</text>
<rect x="1441.7" y="216.5" width="71" height="31.1" fill="#8b8a95"/>
<text x="1446.4" y="239.3" style="font-size:18.6px;fill:#fff;">110.2K</text>
<rect x="1441.3" y="296" width="60.2" height="31.4" fill="#4b3ae0"/>
<text x="1446" y="319.2" style="font-size:18.6px;fill:#fff;">55.1K</text>
<text x="1517.8" y="449.4" text-anchor="middle" dominant-baseline="central" transform="rotate(90 1517.8 449.4)" style="font-size:18px;fill:#111;stroke:#111;stroke-width:0.3px;">$</text>
<text x="93.5" y="833.4" style="font-size:19.7px;fill:#9a9a9a;text-decoration:underline;">Live dashboard: Bitcoin Price Valuation.</text>
<text x="1523.5" y="827.4" text-anchor="end" style="font-size:12.3px;fill:#888;">© CryptoQuant. All rights reserved</text>
</svg>
</body></html>
